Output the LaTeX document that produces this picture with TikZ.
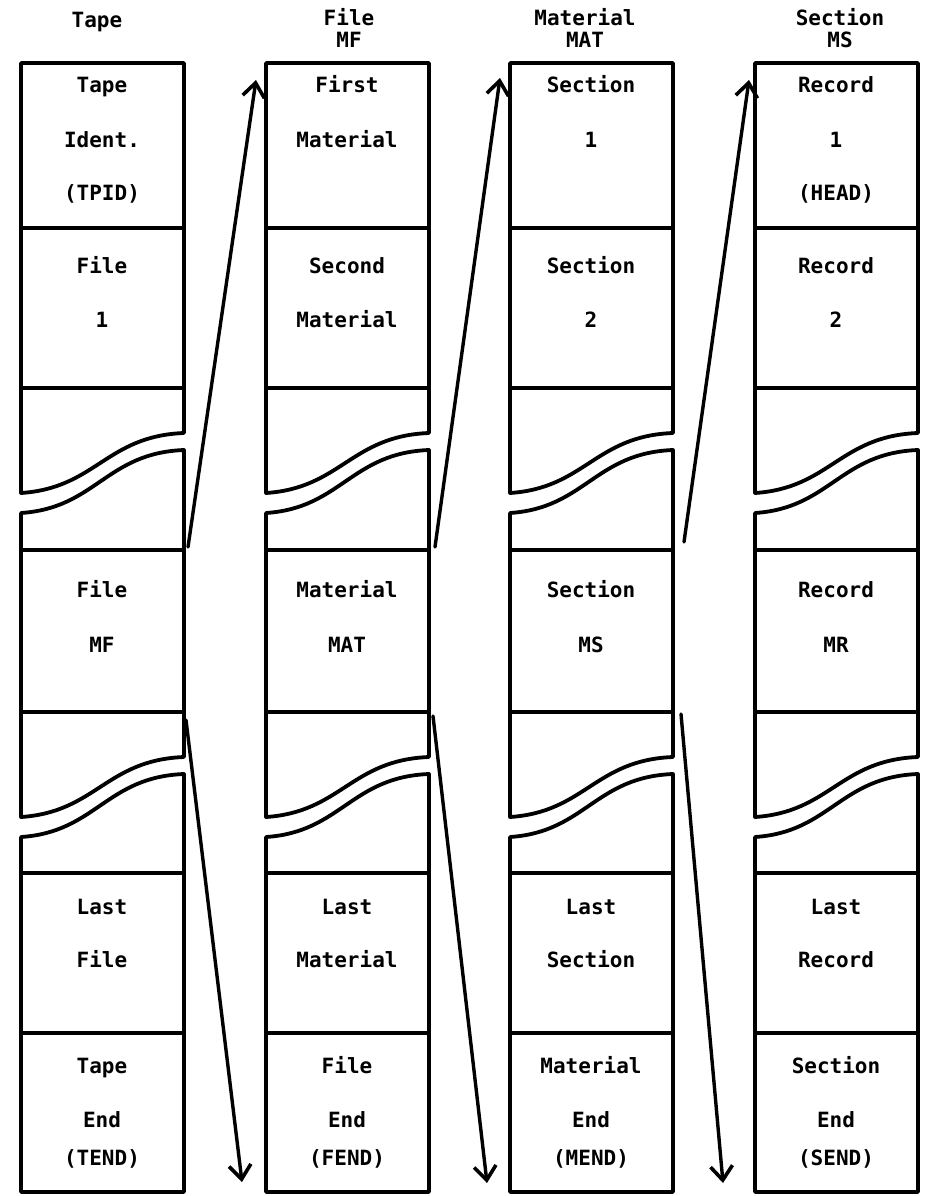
\documentclass[tikz,border=0pt]{standalone}
\usepackage{fontspec}
\newfontfamily\twfont{DejaVu Sans Mono}
\usetikzlibrary{arrows.meta}
\newcommand\boxline[4]{\node[lbl] (#1) at (#2,#3) {#4};}
\begin{document}
\begin{tikzpicture}[x=1pt,y=-1pt,line join=round,line cap=round,
  brd/.style={line width=3.8pt},
  lbl/.style={font=\twfont\bfseries\fontsize{21}{21}\selectfont,inner sep=0pt,
    text height=15pt,text depth=0pt,anchor=center},
  arr/.style={line width=3.4pt,-{Straight Barb[length=14pt,width=22pt,line width=3.6pt]}}]
\useasboundingbox (0,0) rectangle (928,1196);
% columns
\foreach \L in {21,266,510,755}{
  \pgfmathsetmacro\R{\L+163}
  % upper piece
  \draw[brd] (\L,493) .. controls (\L+75,488) and (\L+85,436) .. (\R,433)
     -- (\R,63) -- (\L,63) -- cycle;
  % middle piece
  \draw[brd] (\L,513) .. controls (\L+75,508) and (\L+85,453) .. (\R,450)
     -- (\R,757) .. controls (\L+85,760) and (\L+75,812) .. (\L,817) -- cycle;
  % lower piece
  \draw[brd] (\L,837) .. controls (\L+75,832) and (\L+85,777) .. (\R,774)
     -- (\R,1192) -- (\L,1192) -- cycle;
  \foreach \y in {228,388,550,712,873,1033}{
    \draw[brd] (\L,\y) -- (\R,\y);
  }
}
% headers
\boxline{h1}{97}{20}{Tape}
\boxline{h2a}{349}{18}{File}
\boxline{h2b}{349}{40}{MF}
\boxline{h3a}{585}{18}{Material}
\boxline{h3b}{585}{40}{MAT}
\boxline{h4a}{840}{18}{Section}
\boxline{h4b}{840}{40}{MS}
% column 1
\boxline{a1}{102}{85}{Tape}
\boxline{a2}{102}{140}{Ident.}
\boxline{a3}{102}{193}{(TPID)}
\boxline{a4}{102}{266}{File}
\boxline{a5}{102}{320}{1}
\boxline{a6}{102}{590}{File}
\boxline{a7}{102}{645}{MF}
\boxline{a8}{102}{907}{Last}
\boxline{a9}{102}{960}{File}
\boxline{a10}{102}{1066}{Tape}
\boxline{a11}{102}{1120}{End}
\boxline{a12}{102}{1158}{(TEND)}
% column 2
\boxline{b1}{347}{85}{First}
\boxline{b2}{347}{140}{Material}
\boxline{b4}{347}{266}{Second}
\boxline{b5}{347}{320}{Material}
\boxline{b6}{347}{590}{Material}
\boxline{b7}{347}{645}{MAT}
\boxline{b8}{347}{907}{Last}
\boxline{b9}{347}{960}{Material}
\boxline{b10}{347}{1066}{File}
\boxline{b11}{347}{1120}{End}
\boxline{b12}{347}{1158}{(FEND)}
% column 3
\boxline{c1}{591}{85}{Section}
\boxline{c2}{591}{140}{1}
\boxline{c4}{591}{266}{Section}
\boxline{c5}{591}{320}{2}
\boxline{c6}{591}{590}{Section}
\boxline{c7}{591}{645}{MS}
\boxline{c8}{591}{907}{Last}
\boxline{c9}{591}{960}{Section}
\boxline{c10}{591}{1066}{Material}
\boxline{c11}{591}{1120}{End}
\boxline{c12}{591}{1158}{(MEND)}
% column 4
\boxline{d1}{836}{85}{Record}
\boxline{d2}{836}{140}{1}
\boxline{d3}{836}{193}{(HEAD)}
\boxline{d4}{836}{266}{Record}
\boxline{d5}{836}{320}{2}
\boxline{d6}{836}{590}{Record}
\boxline{d7}{836}{645}{MR}
\boxline{d8}{836}{907}{Last}
\boxline{d9}{836}{960}{Record}
\boxline{d10}{836}{1066}{Section}
\boxline{d11}{836}{1120}{End}
\boxline{d12}{836}{1158}{(SEND)}
% arrows
\coordinate (u1s) at (188,547);
\coordinate (u1e) at (256,80);
\coordinate (u2s) at (435,547);
\coordinate (u2e) at (500,78);
\coordinate (u3s) at (684,542);
\coordinate (u3e) at (749,80);
\coordinate (d1s) at (186,720);
\coordinate (d1e) at (242,1182);
\coordinate (d2s) at (433,716);
\coordinate (d2e) at (487,1183);
\coordinate (d3s) at (681,714);
\coordinate (d3e) at (723,1183);
\draw[arr] (u1s) -- (u1e);
\draw[arr] (u2s) -- (u2e);
\draw[arr] (u3s) -- (u3e);
\draw[arr] (d1s) -- (d1e);
\draw[arr] (d2s) -- (d2e);
\draw[arr] (d3s) -- (d3e);
\end{tikzpicture}
\end{document}
